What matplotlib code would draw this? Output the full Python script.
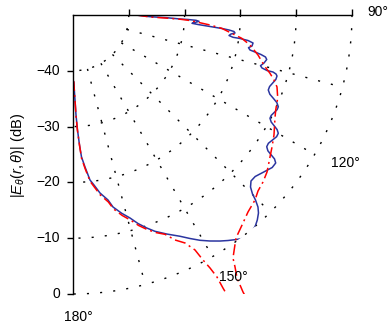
import numpy as np
import matplotlib
matplotlib.use("Agg")
import matplotlib.pyplot as plt

plt.rcParams['font.family'] = ['Liberation Sans', 'DejaVu Sans']
plt.rcParams['mathtext.fontset'] = 'custom'
plt.rcParams['mathtext.rm'] = 'Liberation Sans'
plt.rcParams['mathtext.it'] = 'Liberation Sans:italic'

# 1. DATA (theta in degrees, field in dB)
blue_theta = [90.0, 91.26, 91.65, 92.14, 92.24, 92.47, 92.86, 93.52, 93.99, 94.35,
              94.80, 95.18, 95.49, 95.85, 96.34, 96.86, 97.49, 97.93, 98.01, 98.29,
              98.84, 99.83, 100.55, 101.19, 101.49, 101.87, 102.31, 102.94, 104.11, 105.13,
              105.66, 105.97, 105.91, 106.21, 106.65, 107.64, 108.80, 109.99, 111.01, 111.92,
              112.58, 113.24, 114.07, 114.87, 115.85, 116.87, 117.67, 118.37, 118.84, 119.31,
              119.95, 120.87, 122.07, 123.29, 124.21, 124.87, 125.22, 125.53, 126.13, 127.44,
              129.47, 131.56, 133.00, 134.10, 134.92, 135.39, 136.07, 136.87, 138.04, 139.08,
              140.06, 141.05, 141.92, 142.90, 143.90, 145.50, 146.96, 148.78, 150.59, 152.37,
              154.19, 156.84, 159.24, 160.91, 162.69, 164.31, 166.20, 168.23, 169.29, 171.37,
              172.96, 174.12, 175.49, 176.57, 177.14, 177.76, 178.28, 178.65, 179.01, 179.32,
              180.0]
blue_db = [-38.8, -36.2, -33.2, -30.81, -29.37, -27.94, -27.39, -28.09, -28.62, -27.53,
           -25.36, -23.19, -21.91, -21.00, -20.79, -21.48, -21.80, -21.05, -19.78, -18.31,
           -17.35, -17.44, -18.01, -17.66, -16.72, -15.57, -14.69, -14.38, -14.71, -15.19,
           -14.82, -13.84, -12.73, -12.11, -11.84, -11.86, -12.19, -12.51, -12.51, -11.98,
           -11.12, -10.25, -9.70, -9.68, -9.93, -10.18, -10.14, -9.63, -8.84, -8.05,
           -7.54, -7.49, -7.81, -8.11, -8.02, -7.43, -6.52, -5.63, -5.02, -5.04,
           -5.73, -6.37, -6.38, -5.70, -4.57, -3.43, -2.22, -1.38, -0.60, -0.07,
           0.25, 0.46, 0.47, 0.22, -0.21, -0.96, -1.68, -2.64, -3.65, -4.79,
           -5.95, -7.31, -8.54, -9.61, -10.86, -12.21, -13.41, -14.85, -16.26, -17.73,
           -19.30, -20.27, -22.68, -24.51, -26.67, -29.37, -32.07, -34.76, -36.56, -37.99,
           -38.23]

# red (asymptotic) curve: branch below and branch above the shadow boundary
red_lo_theta = [90.0, 91.49, 91.87, 92.25, 92.69, 93.34, 94.17, 95.11, 96.58, 97.86,
                99.62, 102.20, 105.07, 106.49, 107.92, 109.44, 112.07, 115.11, 117.01, 120.84,
                123.56, 125.78, 128.98, 131.31, 133.57, 135.47, 138.38, 140.74, 143.84, 146.64,
                147.26, 148.05, 148.46, 148.7]
red_lo_db = [-38.6, -36.20, -33.50, -30.81, -29.01, -27.56, -25.38, -23.25, -21.37, -19.48,
             -17.83, -16.08, -14.37, -13.18, -12.14, -11.23, -10.41, -9.88, -9.37, -8.05,
             -7.20, -6.48, -5.27, -4.67, -4.24, -3.49, -2.78, -1.86, -0.50, 2.14,
             3.69, 5.55, 8.24, 14.0]
red_hi_theta = [151.0, 151.22, 151.21, 151.56, 152.05, 152.56, 153.84, 155.61, 157.24, 159.2,
                160.9, 162.7, 164.3, 166.2, 168.2, 169.3, 171.4, 173.0, 174.1, 175.5,
                176.6, 177.1, 177.8, 178.3, 178.65, 179.0, 179.3, 180.0]
red_hi_db = [14.0, 5.82, 3.58, 1.56, -0.30, -2.55, -4.48, -5.73, -7.38, -8.3,
             -9.3, -10.5, -11.8, -13.0, -14.5, -15.9, -17.4, -19.0, -20.0, -22.4,
             -24.3, -26.5, -29.3, -32.0, -34.7, -36.5, -38.0, -38.3]

r_ticks = [-40, -30, -20, -10, 0]
r_labels = ['−40', '−30', '−20', '−10', '0']
spoke_angles = [105, 120, 135, 150, 165]
theta_labels = ['90°', '120°', '150°', '180°']
theta_label_pos = [(89.4, 4.6), (118.5, 5.6), (148.5, 5.1), (179.0, 4.1)]

# 2. AXES
fig = plt.figure(figsize=(3.88, 3.31), dpi=100)
ax = fig.add_axes([73 / 388, 37 / 331, 279 / 388, 279 / 331], projection='polar')
ax.set_theta_zero_location('N')
ax.set_theta_direction(-1)
ax.set_thetamin(90)
ax.set_thetamax(180)
ax.grid(False)
ax.spines['polar'].set_visible(False)
ax.spines['inner'].set_visible(False)
for s in ('start', 'end'):
    ax.spines[s].set_linewidth(1.0)

# dotted grid: arcs of constant level and spokes from -40 dB outward
grid_style = dict(color='black', lw=1.0, ls=(0, (1.5, 8)), clip_on=False)
arc = np.deg2rad(np.linspace(90, 180, 200))
for r in r_ticks:
    ax.plot(arc, np.full_like(arc, r), **grid_style)
for a in spoke_angles:
    ax.plot(np.deg2rad([a, a]), [-40, 0], **grid_style)

# 3. CURVES
ax.plot(np.deg2rad(blue_theta), blue_db, color='#2b35a0', lw=1.1)
for th, db in ((red_lo_theta, red_lo_db), (red_hi_theta, red_hi_db)):
    ln, = ax.plot(np.deg2rad(th), db, color='red', lw=1.1, ls=(0, (7.2, 2.6, 1.3, 2.6)))
    ln.set_clip_path(None)
    ln.set_clip_box(ax.bbox)

ax.set_ylim(-50, 0)
ax.set_xticks([])
ax.set_yticks(r_ticks)
ax.set_yticklabels(r_labels)
ax.tick_params(axis='y', direction='out', length=4.5, width=1,
               left=True, right=True, labelleft=False, labelright=True,
               labelsize=10, pad=5)

for lab, (t, r) in zip(theta_labels, theta_label_pos):
    ax.text(np.deg2rad(t), r, lab, ha='center', va='center', fontsize=10)

fig.text(18 / 388, 1 - 155 / 331, r'$|E_\theta(r,\theta)|$ (dB)', rotation=90,
         ha='center', va='center', fontsize=10.5)

fig.savefig('out.png', dpi=100)
